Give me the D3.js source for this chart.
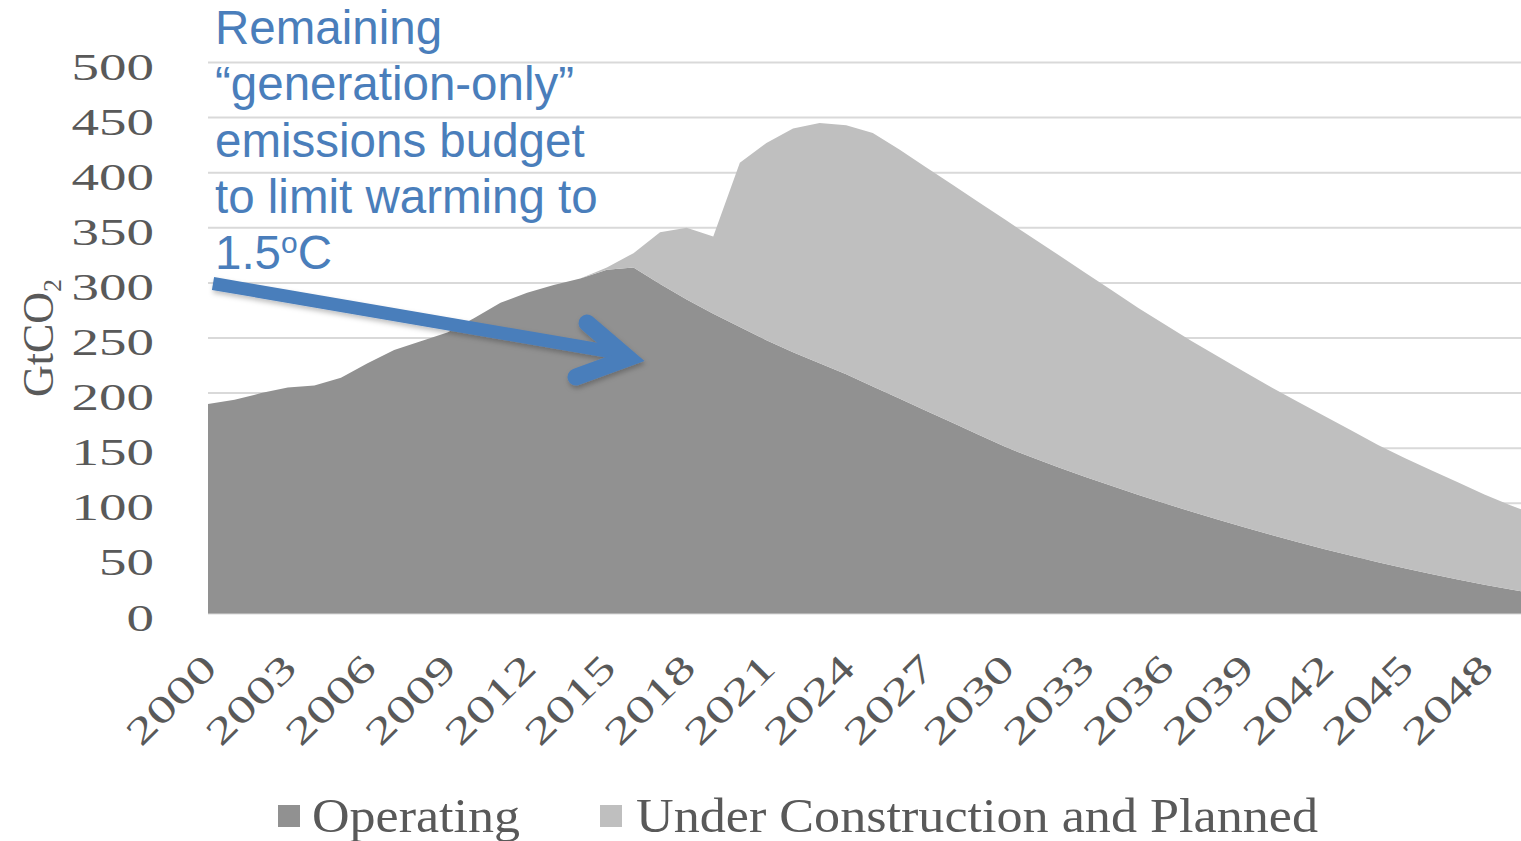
<!DOCTYPE html>
<html>
<head>
<meta charset="utf-8">
<script src="https://cdn.jsdelivr.net/npm/d3@7"></script>
<style>
  html, body { margin: 0; padding: 0; background: #fff; overflow: hidden; }
  svg { display: block; }
</style>
</head>
<body>
<svg id="chart" width="1521" height="841"></svg>
<script>
// ---------- data ----------
const years = [2000,2001,2002,2003,2004,2005,2006,2007,2008,2009,
               2010,2011,2012,2013,2014,2015,2016,2017,2018,2019,
               2020,2021,2022,2023,2024,2025,2026,2027,2028,2029,
               2030,2031,2032,2033,2034,2035,2036,2037,2038,2039,
               2040,2041,2042,2043,2044,2045,2046,2047,2048,2049,2050];
const operating = [190,194,200,205,207,214,227,239,247,255,
                   268,282,291,298,304,312,314,299,285,272,
                   260,248,237,227,217,206,195,184,173,162,
                   151,141.5,132.5,123.9,115.6,107.6,99.8,92.3,85,78,
                   71.2,64.6,58.3,52.3,46.5,41,35.8,30.8,26.1,21.7,17.5];
const underConstructionPlanned = [0,0,0,0,0,0,0,0,0,0,
                   0,0,0,0,0,2,13,47,65,70,
                   149,179,203,218,226,230,226,221,216,211,
                   206,199.5,192.5,185.1,177.4,169.4,162.2,154.7,148,141,
                   133.8,127.4,120.7,113.7,106.5,100,94.2,88.2,81.9,76.3,71.5];
const seriesNames = ["Operating", "Under Construction and Planned"];
const xTickLabels = [2000,2003,2006,2009,2012,2015,2018,2021,2024,2027,2030,2033,2036,2039,2042,2045,2048];
const yTicks = [0,50,100,150,200,250,300,350,400,450,500];
const annotationLines = ["Remaining", "\u201Cgeneration-only\u201D", "emissions budget", "to limit warming to"];

// ---------- setup ----------
const svg = d3.select("#chart");
const W = 1521;
const colors = ["#919191", "#bfbfbf"];
const textGray = "#595959";
const blue = "#4a7ebb";

const x = d3.scaleLinear().domain([2000, 2049]).range([208, 1511]);
const y = d3.scaleLinear().domain([0, 500]).range([613.5, 62.5]);

// gridlines
svg.append("g").selectAll("line").data(yTicks).join("line")
  .attr("x1", 208).attr("x2", W)
  .attr("y1", d => y(d)).attr("y2", d => y(d))
  .attr("stroke", "#d9d9d9").attr("stroke-width", 2);

// stacked areas
const table = years.map((yr, i) => ({ year: yr, op: operating[i], uc: underConstructionPlanned[i] }));
const stack = d3.stack().keys(["op", "uc"]);
const layers = stack(table);
const area = d3.area()
  .x(d => x(d.data.year))
  .y0(d => y(d[0]))
  .y1(d => y(d[1]));
svg.append("g").selectAll("path").data(layers).join("path")
  .attr("d", area)
  .attr("fill", (d, i) => colors[i]);

// y tick labels
svg.append("g").selectAll("text").data(yTicks).join("text")
  .attr("x", 154).attr("y", d => y(d) + 17)
  .attr("text-anchor", "end")
  .attr("font-family", "Liberation Serif, serif")
  .attr("font-size", 38)
  .attr("fill", textGray)
  .attr("textLength", d => String(d).length * 27.5)
  .attr("lengthAdjust", "spacingAndGlyphs")
  .text(d => d);

// x tick labels
svg.append("g").selectAll("text").data(xTickLabels).join("text")
  .attr("transform", d => `translate(${x(d) + 11},670) rotate(-45)`)
  .attr("text-anchor", "end")
  .attr("font-family", "Liberation Serif, serif")
  .attr("font-size", 38)
  .attr("fill", textGray)
  .attr("textLength", 110)
  .attr("lengthAdjust", "spacingAndGlyphs")
  .text(d => d);

// y axis title
const yt = svg.append("text")
  .attr("transform", "translate(53,338) rotate(-90)")
  .attr("text-anchor", "middle")
  .attr("font-family", "Liberation Serif, serif")
  .attr("font-size", 44)
  .attr("fill", textGray);
yt.append("tspan").text("GtCO");
yt.append("tspan").attr("font-size", 26).attr("dy", 8).text("2");

// legend
const legend = svg.append("g");
const legendItems = [
  { name: seriesNames[0], color: colors[0], sx: 278, tx: 312, len: 208 },
  { name: seriesNames[1], color: colors[1], sx: 600, tx: 636, len: 682 }
];
legendItems.forEach(it => {
  legend.append("rect").attr("x", it.sx).attr("y", 805).attr("width", 22).attr("height", 22).attr("fill", it.color);
  legend.append("text").attr("x", it.tx).attr("y", 832)
    .attr("font-family", "Liberation Serif, serif").attr("font-size", 48)
    .attr("fill", textGray)
    .attr("textLength", it.len).attr("lengthAdjust", "spacingAndGlyphs")
    .text(it.name);
});

// annotation text
const ann = svg.append("g")
  .attr("font-family", "Liberation Sans, Arial, sans-serif")
  .attr("font-size", 47.5)
  .attr("fill", blue);
const baselines = [44, 100, 157, 213, 269];
annotationLines.forEach((t, i) => {
  ann.append("text").attr("x", 215).attr("y", baselines[i]).text(t);
});
const last = ann.append("text").attr("x", 215).attr("y", baselines[4]);
last.append("tspan").text("1.5");
last.append("tspan").attr("font-size", 30).attr("dy", -16).text("o");
last.append("tspan").attr("dy", 16).text("C");

// arrow
const defs = svg.append("defs");
const f = defs.append("filter").attr("id", "sh").attr("x", "-10%").attr("y", "-50%").attr("width", "120%").attr("height", "200%");
f.append("feDropShadow").attr("dx", 1).attr("dy", 3).attr("stdDeviation", 2.5).attr("flood-color", "#000").attr("flood-opacity", 0.25);
const arrow = svg.append("g").attr("filter", "url(#sh)");
arrow.append("line")
  .attr("x1", 213).attr("y1", 283.5).attr("x2", 624).attr("y2", 354)
  .attr("stroke", blue).attr("stroke-width", 13);
arrow.append("path")
  .attr("d", "M587,323 L628,358 L576,377")
  .attr("fill", "none").attr("stroke", blue).attr("stroke-width", 17)
  .attr("stroke-linecap", "round").attr("stroke-linejoin", "miter");
</script>
</body>
</html>
